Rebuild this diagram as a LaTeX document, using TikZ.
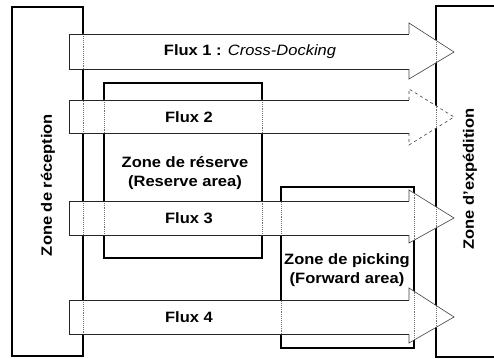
\documentclass[tikz,border=0pt]{standalone}
\usepackage{fontspec}
\setmainfont{Liberation Sans}[FakeStretch=1.1]
\newcommand\fluxfill[5]{(69,#1) -- (409,#1) -- (409,#3) -- (454,#5) -- (409,#4) -- (409,#2) -- (69,#2) -- cycle}
\tikzset{
  zonebox/.style={draw=black, line width=2pt, minimum width=0pt, minimum height=0pt, inner sep=0pt, outer sep=0pt, anchor=north west},
  fluxline/.style={draw=black!85, line width=0.6pt},
  headline/.style={draw=black!75, line width=0.6pt},
  showthrough/.style={draw=black!55, line width=0.9pt, densely dotted},
  lbl/.style={font=\fontsize{15}{19.5}\selectfont\bfseries, inner sep=0pt, align=center},
}
\begin{document}
\begin{tikzpicture}[x=1pt,y=-1pt]
\useasboundingbox (0,0) rectangle (494,358);
% zones
\node[zonebox, minimum width=71pt, minimum height=349pt] (rec) at (12,7) {};
\node[zonebox, minimum width=80pt, minimum height=351pt] (exp) at (436,6) {};
\node[zonebox, minimum width=158pt, minimum height=175pt] (res) at (104,83) {};
\node[zonebox, minimum width=133pt, minimum height=161pt] (pick) at (281,187) {};
% flux arrows
\foreach \t/\b/\ht/\hb/\tip/\hs in {34/69/23/79/52/solid, 100/133/89/145/117/dashed, 201/235/190/243/218/solid, 300/334/288/343/317/solid}{
  \fill[white] \fluxfill{\t}{\b}{\ht}{\hb}{\tip};
  \begin{scope}
    \clip \fluxfill{\t}{\b}{\ht}{\hb}{\tip};
    \draw[showthrough] (rec.north west) rectangle (rec.south east);
    \draw[showthrough] (exp.north west) rectangle (exp.south east);
    \draw[showthrough] (res.north west) rectangle (res.south east);
    \draw[showthrough] (pick.north west) rectangle (pick.south east);
  \end{scope}
  \draw[fluxline] (409,\t) -- (69,\t) -- (69,\b) -- (409,\b);
  \draw[headline, \hs] (409,\b) -- (409,\hb) -- (454,\tip) -- (409,\ht) -- (409,\t);
}
% labels
\node[lbl, rotate=90] (rect) at (48,185) {Zone de réception};
\node[lbl, rotate=90] (expt) at (470,179) {Zone d'expédition};
\node[lbl] (f1) at (250,52) {Flux 1 : \textmd{\itshape Cross-Docking}};
\node[lbl] (f2) at (189,117) {Flux 2};
\node[lbl] (f3) at (189,218) {Flux 3};
\node[lbl] (f4) at (189,317) {Flux 4};
\node[lbl] (rest) at (185,173) {Zone de réserve\\(Reserve area)};
\node[lbl] (pickt) at (347,270) {Zone de picking\\(Forward area)};
\end{tikzpicture}
\end{document}
